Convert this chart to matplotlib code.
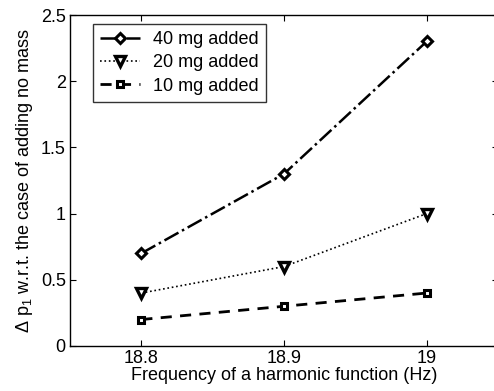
import numpy as np
import matplotlib
matplotlib.use('Agg')
import matplotlib.pyplot as plt

plt.rcParams['font.family'] = ['Liberation Sans', 'DejaVu Sans']
plt.rcParams['mathtext.fontset'] = 'custom'
plt.rcParams['mathtext.rm'] = 'Liberation Sans'
plt.rcParams['mathtext.it'] = 'Liberation Sans'

freq = [18.8, 18.9, 19.0]
dp_40 = [0.7, 1.3, 2.3]
dp_20 = [0.4, 0.6, 1.0]
dp_10 = [0.2, 0.3, 0.4]

fig = plt.figure(figsize=(4.94, 3.91), dpi=100)
ax = fig.add_axes([70/494, 45/391, 428/494, 331/391])

ax.plot(freq, dp_40, color='k', ls='-.', lw=1.8, marker='D', ms=5, mfc='white', mec='k', mew=2.2, label='40 mg added')
ax.plot(freq, dp_20, color='k', ls=':', lw=1.2, marker='v', ms=7, mfc='white', mec='k', mew=2.4, label='20 mg added')
ax.plot(freq, dp_10, color='k', ls='--', lw=2.0, marker='s', ms=5, mfc='white', mec='k', mew=2.2,
        dashes=(4, 3), label='10 mg added')

ax.set_xlim(18.75, 19.05)
ax.set_ylim(0, 2.5)
ax.set_xticks([18.8, 18.9, 19.0])
ax.set_xticklabels(['18.8', '18.9', '19'])
ax.set_yticks([0, 0.5, 1, 1.5, 2, 2.5])
ax.set_yticklabels(['0', '0.5', '1', '1.5', '2', '2.5'])
ax.tick_params(direction='in', top=True, right=True, labelsize=13, length=4, pad=3)
for s in ax.spines.values():
    s.set_linewidth(1.0)

ax.set_xlabel('Frequency of a harmonic function (Hz)', fontsize=13, labelpad=0)
ax.set_ylabel('$\\Delta$ p$_1$ w.r.t. the case of adding no mass', fontsize=13, labelpad=4)

leg = ax.legend(loc='upper left', bbox_to_anchor=(0.054, 0.973), borderaxespad=0, fontsize=13, frameon=True,
                fancybox=False, edgecolor='k', handlelength=2.2, handletextpad=0.7, borderpad=0.4,
                labelspacing=0.35)
leg.get_frame().set_linewidth(1.0)

fig.savefig('out.png', dpi=100)
